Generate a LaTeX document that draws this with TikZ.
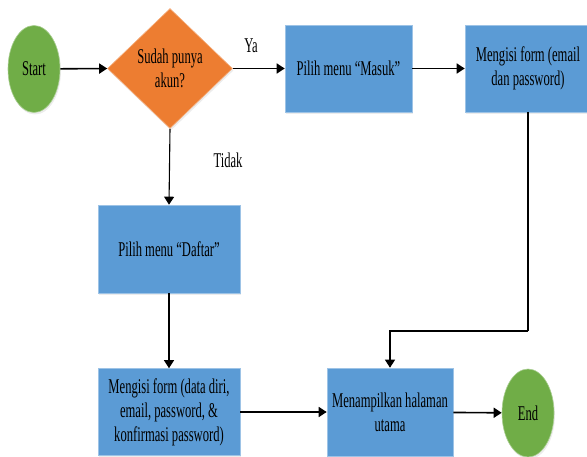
\documentclass[tikz,border=0pt]{standalone}
\usepackage{fontspec}
\setmainfont{Liberation Serif}[FakeStretch=0.6]
\usetikzlibrary{shapes.geometric,arrows.meta,shadows}
\definecolor{cgreen}{HTML}{70AD47}
\definecolor{corange}{HTML}{ED7D31}
\definecolor{cblue}{HTML}{5B9BD5}
\tikzset{
  base/.style={font=\fontsize{21}{24}\selectfont, align=center, inner sep=0pt, text=black,
    drop shadow={opacity=0.15, shadow xshift=1pt, shadow yshift=-2pt}},
  term/.style={base, ellipse, fill=cgreen, draw=cgreen!60!white, line width=0.6pt},
  decide/.style={base, diamond, fill=corange, draw=corange!60!white, line width=0.6pt},
  proc/.style={base, rectangle, fill=cblue, draw=cblue!60!white, line width=0.6pt},
  harrow/.style={line width=1.6pt, -{Triangle[length=8pt,width=10pt]}},
  varrow/.style={line width=1.1pt, -{Triangle[length=8pt,width=10pt]}},
  lbl/.style={font=\fontsize{21}{24}\selectfont, inner sep=0pt}
}
\begin{document}
\begin{tikzpicture}[x=1pt,y=-1pt]
\useasboundingbox (0,0) rectangle (587,457);
\node[term, minimum width=52pt, minimum height=87pt] (start) at (34,69) {Start};
\node[decide, minimum width=125pt, minimum height=120pt] (dec) at (170,68.5) {Sudah punya\\akun?};
\node[proc, minimum width=127pt, minimum height=87pt] (masuk) at (348.5,68.5) {Pilih menu “Masuk”};
\node[proc, minimum width=126pt, minimum height=87pt] (email) at (528,68.5) {Mengisi form (email\\dan password)};
\node[proc, minimum width=142pt, minimum height=88pt] (daftar) at (169,249) {Pilih menu “Daftar”};
\node[proc, minimum width=142pt, minimum height=87pt] (data) at (169,412) {Mengisi form (data diri,\\email, password, \&\\konfirmasi password)};
\node[proc, minimum width=126pt, minimum height=88pt] (tampil) at (390,412) {Menampilkan halaman\\utama};
\node[term, minimum width=52pt, minimum height=88pt] (end) at (528,413) {End};
\coordinate (turn) at (528,331);
\node[lbl] (ya) at (251,46) {Ya};
\node[lbl] (tidak) at (228,160) {Tidak};
\draw[harrow] (start) -- (dec.west);
\draw[harrow] (dec.east) -- (masuk.west);
\draw[harrow] (masuk) -- (email);
\draw[varrow] (dec.south) -- (daftar.north);
\draw[varrow] (daftar) -- (data);
\draw[line width=1.1pt] (email.south) -- (turn);
\draw[varrow] (turn) -| (tampil.north);
\draw[harrow] (data.east |- tampil.west) -- (tampil.west);
\draw[harrow] (tampil) -- (end);
\end{tikzpicture}
\end{document}
